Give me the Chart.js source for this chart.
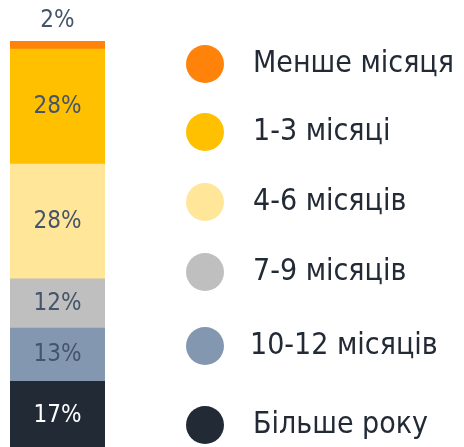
<!DOCTYPE html>
<html>
<head>
<meta charset="utf-8">
<script src="https://cdn.jsdelivr.net/npm/chart.js@4"></script>
<style>
  html, body { margin: 0; padding: 0; background: #fff; overflow: hidden; }
  #wrap { position: absolute; left: 0; top: 0; width: 464px; height: 451px; }
</style>
</head>
<body>
<div id="wrap"><canvas id="chart"></canvas></div>
<script>
// Data, bottom segment first
const categories = ['Більше року', '10-12 місяців', '7-9 місяців', '4-6 місяців', '1-3 місяці', 'Менше місяця'];
const shares = [17, 13, 12, 28, 28, 2];
const colors = ['#222a35', '#8497b0', '#bfbfbf', '#ffe699', '#ffc000', '#ff820a'];
const labelColors = ['#ffffff', '#44546a', '#44546a', '#44546a', '#44546a', '#44546a'];

// legend row centres, top to bottom
const legendY = [64, 132, 202, 272, 346, 425];

const valueLabels = {
    id: 'valueLabels',
    afterDatasetsDraw(chart) {
        const ctx = chart.ctx;
        ctx.save();
        ctx.font = '24px "DejaVu Sans Condensed", "DejaVu Sans", sans-serif';
        ctx.textAlign = 'center';
        ctx.textBaseline = 'middle';
        chart.data.datasets.forEach((ds, i) => {
            const bar = chart.getDatasetMeta(i).data[0];
            const h = Math.abs(bar.base - bar.y);
            ctx.fillStyle = labelColors[i];
            const y = h < 20 ? bar.y - 20 : (bar.y + bar.base) / 2;
            ctx.fillText(ds.data[0] + '%', bar.x, y);
        });
        ctx.restore();
    }
};

const sideLegend = {
    id: 'sideLegend',
    afterDraw(chart) {
        const ctx = chart.ctx;
        ctx.save();
        ctx.font = '30px "DejaVu Sans Condensed", "DejaVu Sans", sans-serif';
        ctx.textBaseline = 'middle';
        const order = chart.data.datasets.map((d, i) => i).reverse();
        order.forEach((i, row) => {
            const y = legendY[row];
            ctx.fillStyle = colors[i];
            ctx.beginPath();
            ctx.arc(205, y, 19, 0, Math.PI * 2);
            ctx.fill();
            ctx.fillStyle = '#222a35';
            ctx.fillText(categories[i], i === 1 ? 250 : 253, y);
        });
        ctx.restore();
    }
};

new Chart(document.getElementById('chart'), {
    type: 'bar',
    data: {
        labels: [''],
        datasets: categories.map((c, i) => ({
            label: c,
            data: [shares[i]],
            backgroundColor: colors[i],
            borderWidth: 0,
            barPercentage: 1,
            categoryPercentage: 1
        }))
    },
    options: {
        responsive: true,
        maintainAspectRatio: false,
        animation: false,
        layout: { padding: { left: 10, right: 359, top: 41, bottom: 0 } },
        scales: {
            x: { stacked: true, display: false },
            y: { stacked: true, display: false, min: 0, max: 100 }
        },
        plugins: {
            legend: { display: false },
            tooltip: { enabled: false }
        }
    },
    plugins: [valueLabels, sideLegend]
});
</script>
</body>
</html>
